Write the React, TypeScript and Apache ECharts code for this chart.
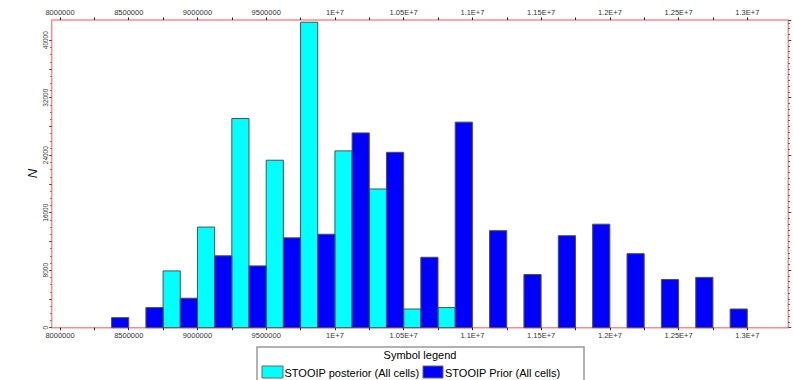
import React, { useEffect, useRef } from "react";
import * as echarts from "echarts";

// Bin starts (STOOIP), each bin 250000 wide
const binStarts = [
  8250000, 8500000, 8750000, 9000000, 9250000, 9500000, 9750000, 10000000,
  10250000, 10500000, 10750000, 11000000, 11250000, 11500000, 11750000,
  12000000, 12250000, 12500000, 12750000,
];
const posterior = [
  0, 0, 7900, 14000, 29100, 23300, 42500, 24600, 19300, 2600, 2800, 0, 0, 0, 0,
  0, 0, 0, 0,
];
const prior = [
  1400, 2800, 4100, 10000, 8600, 12500, 13000, 27100, 24400, 9800, 28600,
  13500, 7400, 12800, 14400, 10300, 6700, 7000, 2600,
];
const seriesNames = ["STOOIP posterior (All cells)", "STOOIP Prior (All cells)"];
const legendTitle = "Symbol legend";
const yName = "N";

const HALF = 125000;

function fmtX(v: number): string {
  if (Math.round(v) % 500000 !== 0) return "";
  if (v < 1e7) return String(Math.round(v));
  return parseFloat((v / 1e7).toFixed(3)) + "E+7";
}

function makeRender(color: string) {
  return (params: any, api: any) => {
    const x0 = api.value(0);
    const x1 = api.value(1);
    const y = api.value(2);
    const p0 = api.coord([x0, y]);
    const p1 = api.coord([x1, 0]);
    return {
      type: "rect",
      shape: { x: p0[0], y: p0[1], width: p1[0] - p0[0], height: p1[1] - p0[1] },
      style: { fill: color, stroke: "#505050", lineWidth: 1 },
    };
  };
}

export default function App() {
  const ref = useRef<HTMLDivElement>(null);
  useEffect(() => {
    if (!ref.current) return;
    const chart = echarts.init(ref.current, null, { renderer: "svg" });
    const postData = binStarts
      .map((b, i) => [b, b + HALF, posterior[i]])
      .filter((d) => d[2] > 0);
    const priorData = binStarts
      .map((b, i) => [b + HALF, b + 2 * HALF, prior[i]])
      .filter((d) => d[2] > 0);
    const labelStyle = { fontSize: 7.5, color: "#333", fontFamily: "Arial" };
    chart.setOption({
      animation: false,
      backgroundColor: "#fff",
      grid: [
        { left: 51.7, right: 5.7, top: 20, bottom: 52.3, show: true, borderColor: "#ff8a8a", borderWidth: 1.5, backgroundColor: "transparent" },
        { left: 60, right: 12.3, top: 20, bottom: 52.3 },
        { left: 51.7, right: 5.7, top: 40.2, bottom: 52.3 },
      ],
      xAxis: [
        { gridIndex: 0, type: "value", min: 7939600, max: 13298300, show: false },
        {
          gridIndex: 1, type: "value", position: "bottom", min: 8000000, max: 13250000, interval: 250000,
          axisLine: { show: false }, splitLine: { show: false },
          axisTick: { show: true, length: 2.5, lineStyle: { color: "#222" } },
          axisLabel: { ...labelStyle, margin: 4, formatter: fmtX, showMaxLabel: false },
        },
        {
          gridIndex: 1, type: "value", position: "top", min: 8000000, max: 13250000, interval: 250000,
          axisLine: { show: false }, splitLine: { show: false },
          axisTick: { show: true, length: 2.5, lineStyle: { color: "#222" } },
          axisLabel: { ...labelStyle, margin: 4, formatter: fmtX, showMaxLabel: false },
        },
        { gridIndex: 2, type: "value", show: false },
      ],
      yAxis: [
        { gridIndex: 0, type: "value", min: 0, max: 42810, show: false },
        {
          gridIndex: 0, type: "value", position: "right", min: 0, max: 42810, interval: 8000,
          axisLine: { show: false }, splitLine: { show: false },
          axisTick: { show: true, length: 3, lineStyle: { color: "#444" } },
          minorTick: { show: true, splitNumber: 10, length: 1.5, lineStyle: { color: "#444" } },
          axisLabel: { show: false },
        },
        { gridIndex: 1, type: "value", show: false },
        {
          gridIndex: 2, type: "value", position: "left", min: 0, max: 40000, interval: 4000,
          axisLine: { show: false }, splitLine: { show: false },
          axisTick: { show: true, length: 2.5, lineStyle: { color: "#444" } },
          minorTick: { show: true, splitNumber: 4, length: 1.5, lineStyle: { color: "#666" } },
          axisLabel: {
            fontSize: 6.5, color: "#333", fontFamily: "Arial", rotate: 90, margin: 3,
            formatter: (v: number) => (v % 8000 === 0 ? String(v) : ""),
          },
        },
      ],
      series: [
        {
          name: seriesNames[0], type: "custom", xAxisIndex: 0, yAxisIndex: 0,
          renderItem: makeRender("#00ffff"), encode: { x: [0, 1], y: 2 }, data: postData,
        },
        {
          name: seriesNames[1], type: "custom", xAxisIndex: 0, yAxisIndex: 0,
          renderItem: makeRender("#0000ff"), encode: { x: [0, 1], y: 2 }, data: priorData,
        },
      ],
      graphic: [
        {
          type: "text", x: 32.5, y: 173.5, rotation: Math.PI / 2,
          style: { text: yName, font: "italic 13px Arial", fill: "#111", align: "center", verticalAlign: "middle" },
        },
        {
          type: "rect", shape: { x: 257, y: 347, width: 327, height: 45 },
          style: { fill: "#fff", stroke: "#999", lineWidth: 1.5 },
        },
        {
          type: "text", x: 420, y: 355,
          style: { text: legendTitle, font: "11px Arial", fill: "#000", align: "center", verticalAlign: "middle" },
        },
        {
          type: "rect", shape: { x: 262, y: 366, width: 21, height: 12 },
          style: { fill: "#00ffff", stroke: "#666", lineWidth: 1 },
        },
        {
          type: "text", x: 284.5, y: 372.5,
          style: { text: seriesNames[0], font: "11px Arial", fill: "#000", align: "left", verticalAlign: "middle" },
        },
        {
          type: "rect", shape: { x: 423, y: 366, width: 20, height: 12 },
          style: { fill: "#0000ff", stroke: "#666", lineWidth: 1 },
        },
        {
          type: "text", x: 445, y: 372.5,
          style: { text: seriesNames[1], font: "11px Arial", fill: "#000", align: "left", verticalAlign: "middle" },
        },
      ],
    });
    return () => chart.dispose();
  }, []);
  return (
    <div
      ref={ref}
      style={{ position: "absolute", left: 0, top: 0, width: 794, height: 380 }}
    />
  );
}
